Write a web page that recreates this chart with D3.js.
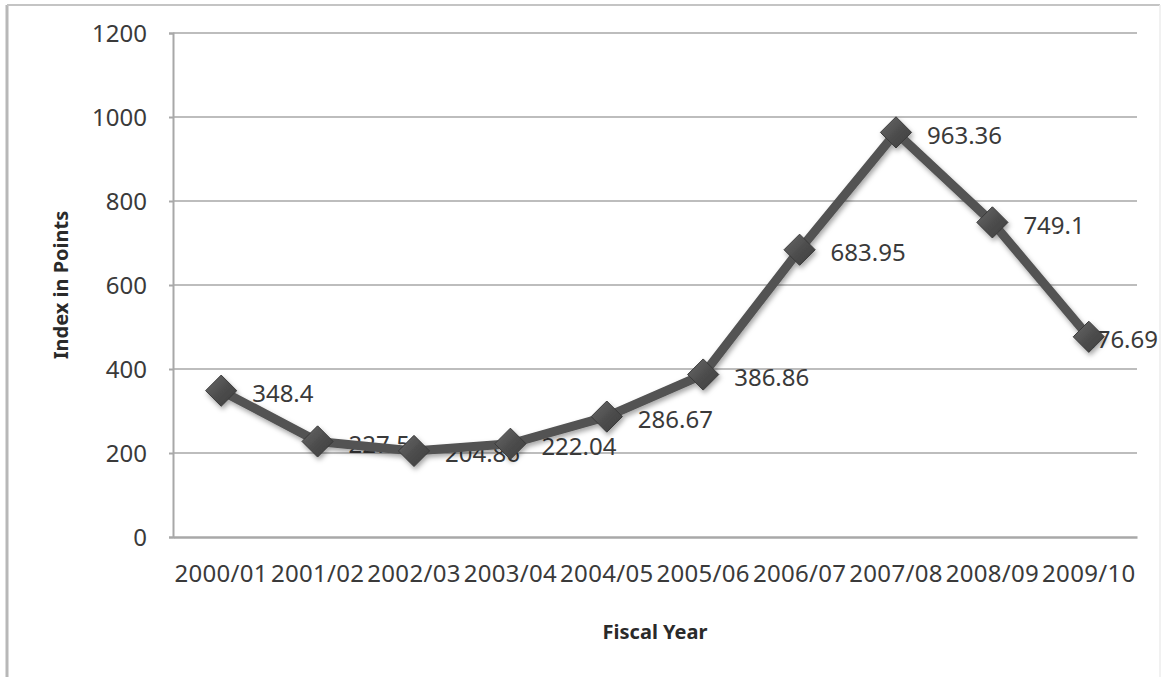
<!DOCTYPE html>
<html>
<head>
<meta charset="utf-8">
<script src="https://cdn.jsdelivr.net/npm/d3@7"></script>
<style>
  html, body { margin: 0; padding: 0; background: #fff; }
  svg { display: block; }
  svg text { font-family: "Noto Sans", "Open Sans", sans-serif; }
</style>
</head>
<body>
<svg id="chart" width="1162" height="677"></svg>
<script>
// Fiscal years and index values
const years = ["2000/01", "2001/02", "2002/03", "2003/04", "2004/05",
               "2005/06", "2006/07", "2007/08", "2008/09", "2009/10"];
const indexValues = [348.4, 227.5, 204.86, 222.04, 286.67,
                     386.86, 683.95, 963.36, 749.1, 476.69];
const yTicks = [0, 200, 400, 600, 800, 1000, 1200];
const yTitle = "Index in Points";
const xTitle = "Fiscal Year";

const svg = d3.select("#chart");
const W = 1162, H = 677;
const plot = { left: 173, top: 33, right: 1137, bottom: 537 };

// Outer frame
svg.append("line").attr("x1", 7).attr("y1", 5).attr("x2", 7).attr("y2", H)
  .attr("stroke", "#b8b8b8").attr("stroke-width", 3);
svg.append("line").attr("x1", 7).attr("y1", 5).attr("x2", W - 2).attr("y2", 5)
  .attr("stroke", "#c4c4c4").attr("stroke-width", 2);
svg.append("line").attr("x1", W - 2).attr("y1", 5).attr("x2", W - 2).attr("y2", H)
  .attr("stroke", "#ececec").attr("stroke-width", 1.5);

const x = d3.scaleBand().domain(years).range([plot.left, plot.right]);
const y = d3.scaleLinear().domain([0, 1200]).range([plot.bottom, plot.top]);

// Drop shadow and bevel fill for the series
const defs = svg.append("defs");
const f = defs.append("filter").attr("id", "shadow")
  .attr("x", "-20%").attr("y", "-20%").attr("width", "140%").attr("height", "140%");
f.append("feDropShadow").attr("dx", 1.5).attr("dy", 3).attr("stdDeviation", 2.5)
  .attr("flood-color", "#000").attr("flood-opacity", 0.35);
const g = defs.append("linearGradient").attr("id", "markerFill")
  .attr("x1", "0").attr("y1", "0").attr("x2", "1").attr("y2", "1");
g.append("stop").attr("offset", "0%").attr("stop-color", "#6a6a6a");
g.append("stop").attr("offset", "50%").attr("stop-color", "#4e4e4e");
g.append("stop").attr("offset", "100%").attr("stop-color", "#3c3c3c");

// Gridlines
svg.append("g").selectAll("line").data(yTicks.filter(d => d > 0)).join("line")
  .attr("x1", plot.left).attr("x2", plot.right)
  .attr("y1", d => y(d)).attr("y2", d => y(d))
  .attr("stroke", "#bdbdbd").attr("stroke-width", 2);

// Y axis
const yAxis = svg.append("g").attr("transform", `translate(${plot.left},0)`)
  .call(d3.axisLeft(y).tickValues(yTicks).tickFormat(d3.format("d")).tickSize(4).tickPadding(22))
  .attr("font-family", null).attr("font-size", null);
yAxis.select(".domain").attr("stroke", "#a8a8a8").attr("stroke-width", 2);
yAxis.selectAll(".tick line").attr("stroke", "#a8a8a8").attr("stroke-width", 2);
yAxis.selectAll("text").attr("fill", "#3a3a3a").style("font-size", "24px")
  .attr("dy", "0.35em");

// X axis
const xAxis = svg.append("g").attr("transform", `translate(0,${plot.bottom})`)
  .call(d3.axisBottom(x).tickSize(0).tickPadding(28))
  .attr("font-family", null).attr("font-size", null);
xAxis.select(".domain").attr("stroke", "#a8a8a8").attr("stroke-width", 2.5);
xAxis.selectAll("text").attr("fill", "#3a3a3a").style("font-size", "24px")
  .style("letter-spacing", "0.3px");

// Axis titles
svg.append("text").attr("transform", `translate(68,${(plot.top + plot.bottom) / 2}) rotate(-90)`)
  .attr("text-anchor", "middle").attr("fill", "#2a2a2a")
  .style("font-size", "20px").style("font-weight", "bold").text(yTitle);
svg.append("text").attr("x", (plot.left + plot.right) / 2).attr("y", 639)
  .attr("text-anchor", "middle").attr("fill", "#2a2a2a")
  .style("font-size", "20px").style("font-weight", "bold").text(xTitle);

const pts = years.map((d, i) => ({ yr: d, v: indexValues[i] }));
const cx = d => x(d.yr) + x.bandwidth() / 2;

// Value labels, kept inside the chart's right edge
svg.append("g").selectAll("text").data(pts).join("text")
  .attr("x", d => cx(d) + 31).attr("y", d => y(d.v) + 3)
  .attr("dy", "0.35em").attr("fill", "#3a3a3a").style("font-size", "24px")
  .text(d => d.v)
  .each(function () {
    const bb = this.getBBox();
    const over = bb.x + bb.width - (W - 4);
    if (over > 0) d3.select(this).attr("x", bb.x - over);
  });

// Series line and markers, drawn over the labels
const series = svg.append("g").attr("filter", "url(#shadow)");
series.append("path").datum(pts)
  .attr("d", d3.line().x(cx).y(d => y(d.v)))
  .attr("fill", "none").attr("stroke", "#525252").attr("stroke-width", 9)
  .attr("stroke-linejoin", "round");
series.selectAll("path.mk").data(pts).join("path").attr("class", "mk")
  .attr("transform", d => `translate(${cx(d)},${y(d.v)})`)
  .attr("d", d3.symbol().type(d3.symbolDiamond2).size(620))
  .attr("fill", "url(#markerFill)").attr("stroke", "#3a3a3a").attr("stroke-width", 1);
</script>
</body>
</html>
